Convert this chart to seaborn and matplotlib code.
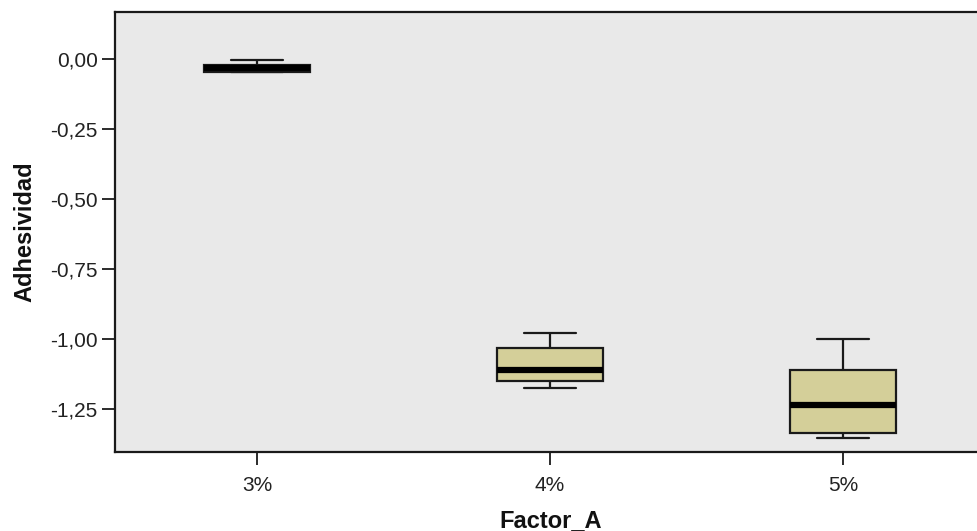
import matplotlib
matplotlib.use("Agg")
import matplotlib.pyplot as plt
import seaborn as sns
import pandas as pd
from matplotlib.ticker import FuncFormatter, FixedLocator

# Five-number summaries per group (min, Q1, median, Q3, max)
categories = ["3%", "4%", "5%"]
vals_3 = [-0.045, -0.045, -0.033, -0.021, -0.005]
vals_4 = [-1.175, -1.150, -1.111, -1.032, -0.979]
vals_5 = [-1.354, -1.336, -1.236, -1.111, -1.000]
y_ticks = [0.0, -0.25, -0.50, -0.75, -1.00, -1.25]

df = pd.DataFrame({
    "Factor_A": [categories[0]] * len(vals_3) + [categories[1]] * len(vals_4) + [categories[2]] * len(vals_5),
    "Adhesividad": vals_3 + vals_4 + vals_5,
})

sns.set_theme(style="white")
plt.rcParams["font.family"] = ["Liberation Sans", "DejaVu Sans"]

fig = plt.figure(figsize=(9.77, 5.31), dpi=100)
W, H = 977, 531
ax_left, ax_top, ax_bottom = 115, 12, 452
ax = fig.add_axes([ax_left / W, 1 - ax_bottom / H, 1 - ax_left / W, (ax_bottom - ax_top) / H])
ax.set_facecolor("#E9E9E9")

line_c = "#1a1a1a"
box_c = "#D4CF99"
sns.boxplot(
    data=df, x="Factor_A", y="Adhesividad", order=categories, ax=ax,
    color=box_c, width=0.36, whis=(0, 100), showfliers=False,
    boxprops=dict(facecolor=box_c, edgecolor=line_c, linewidth=1.6),
    whiskerprops=dict(color=line_c, linewidth=1.6),
    capprops=dict(color=line_c, linewidth=1.6),
    medianprops=dict(color="#000000", linewidth=4.5, solid_capstyle="butt"),
    saturation=1,
)

ax.set_xlim(-0.485, 2.457)
ax.set_ylim(-1.404, 0.168)
ax.yaxis.set_major_locator(FixedLocator(y_ticks))
ax.yaxis.set_major_formatter(FuncFormatter(lambda v, p: f"{v:.2f}".replace(".", ",").replace("-0,00", "0,00")))

for side in ["top", "left", "bottom"]:
    ax.spines[side].set_visible(True)
    ax.spines[side].set_color(line_c)
    ax.spines[side].set_linewidth(1.6)
ax.spines["right"].set_visible(False)

ax.tick_params(axis="both", which="major", direction="out", length=9.5, width=1.3,
               color=line_c, labelsize=15, labelcolor="#222222", left=True, bottom=True, pad=3)
ax.tick_params(axis="x", pad=8)

ax.set_xlabel("Factor_A", fontsize=17, fontweight="bold", color="#111111")
ax.set_ylabel("Adhesividad", fontsize=17, fontweight="bold", color="#111111")
ax_w = W - ax_left
ax_h = ax_bottom - ax_top
ax.xaxis.set_label_coords((551 - ax_left) / ax_w, (ax_bottom - 509) / ax_h)
ax.yaxis.set_label_coords((36 - ax_left) / ax_w, 0.5)

fig.savefig("out.png", dpi=100)
